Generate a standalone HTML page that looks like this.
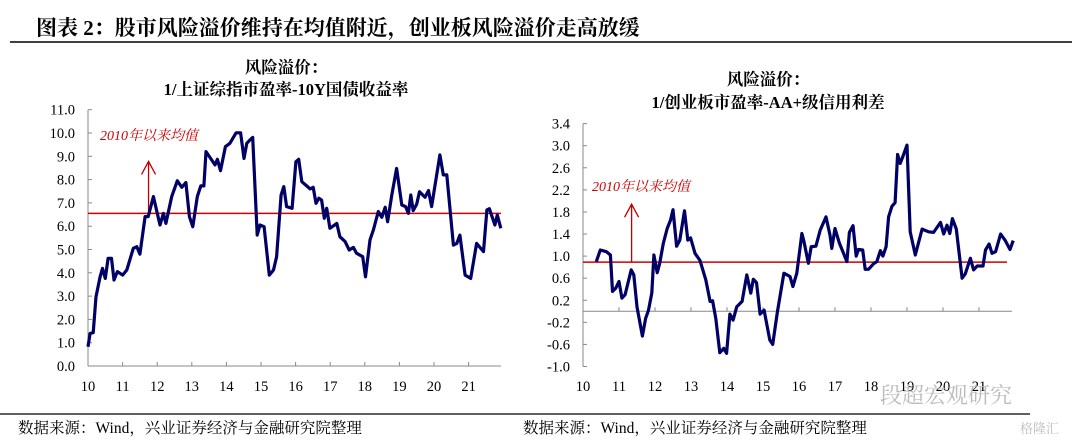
<!DOCTYPE html>
<html><head><meta charset="utf-8">
<style>
body{margin:0;background:#fff;}
svg text{font-family:"Liberation Serif","Noto Serif CJK SC",serif;}
</style></head>
<body>
<svg id="c" width="1072" height="442" viewBox="0 0 1072 442" xmlns="http://www.w3.org/2000/svg">
<text x="36" y="35" font-size="21" font-weight="bold" fill="#000">图表 2：股市风险溢价维持在均值附近，创业板风险溢价走高放缓</text>
<line x1="10" y1="42" x2="1072" y2="42" stroke="#000" stroke-width="1.5"/>
<text x="286" y="73" font-size="16.5" font-weight="bold" text-anchor="middle">风险溢价：</text>
<text x="286" y="95" font-size="16.5" font-weight="bold" text-anchor="middle">1/上证综指市盈率-10Y国债收益率</text>
<text x="768" y="85" font-size="16.5" font-weight="bold" text-anchor="middle">风险溢价：</text>
<text x="768" y="108" font-size="16.5" font-weight="bold" text-anchor="middle">1/创业板市盈率-AA+级信用利差</text>
<g id="left"></g>
<g id="right"></g>
<text x="880" y="403" font-size="22" fill="#bbb" font-family="Liberation Sans,Noto Sans CJK SC,sans-serif">段超宏观研究</text>
<line x1="0" y1="414" x2="1030" y2="414" stroke="#000" stroke-width="1.2"/>
<text x="18" y="433" font-size="15.5">数据来源：Wind，兴业证券经济与金融研究院整理</text>
<text x="523" y="433" font-size="15.5">数据来源：Wind，兴业证券经济与金融研究院整理</text>
<text x="1020" y="433" font-size="13" fill="#bbb">格隆汇</text>
</svg>
<script>
const leftYears=[10.00,10.06,10.15,10.23,10.35,10.42,10.50,10.58,10.68,10.75,10.85,11.00,11.12,11.31,11.41,11.50,11.65,11.74,11.89,12.08,12.18,12.25,12.42,12.58,12.71,12.83,12.93,13.03,13.16,13.26,13.35,13.41,13.67,13.74,13.83,13.97,14.10,14.28,14.41,14.51,14.59,14.68,14.76,14.89,14.97,15.09,15.24,15.36,15.45,15.58,15.66,15.74,15.90,16.01,16.09,16.18,16.32,16.42,16.51,16.59,16.67,16.75,16.83,16.90,16.99,17.19,17.28,17.43,17.55,17.67,17.76,17.94,18.02,18.15,18.25,18.39,18.49,18.59,18.66,18.78,18.92,19.07,19.18,19.26,19.33,19.40,19.50,19.58,19.74,19.84,19.93,20.17,20.27,20.37,20.56,20.66,20.75,20.90,21.06,21.23,21.43,21.53,21.60,21.76,21.83,21.93];
const leftValues=[0.83,1.4,1.43,2.97,3.83,4.19,3.76,4.62,4.62,3.69,4.05,3.9,4.12,5.05,5.12,4.8,6.41,6.41,7.27,6.05,6.55,6.12,7.27,7.95,7.67,7.87,6.41,5.98,7.27,7.73,7.73,9.2,8.63,8.87,8.38,9.41,9.56,10.01,10.01,8.91,9.56,9.70,9.81,5.62,6.05,5.98,3.9,4.12,4.69,7.34,7.7,6.84,6.77,8.77,8.87,7.91,7.73,7.6,7.67,6.98,7.2,7.12,6.34,6.77,5.91,6.12,5.55,5.34,4.98,5.09,4.84,4.69,3.83,5.41,5.84,6.63,6.38,6.81,6.19,7.34,8.48,6.91,6.84,6.55,7.34,6.67,6.95,7.48,7.24,7.53,6.84,9.06,8.2,8.2,5.19,5.26,5.62,3.9,3.76,5.26,4.91,6.7,6.75,6.05,6.48,5.91];
const leftMean=6.55;
const leftTicks=["0.0","1.0","2.0","3.0","4.0","5.0","6.0","7.0","8.0","9.0","10.0","11.0"];
const xYearLabels=["10","11","12","13","14","15","16","17","18","19","20","21"];
const rightYears=[10.37,10.48,10.65,10.76,10.82,10.91,11.00,11.08,11.17,11.34,11.41,11.50,11.65,11.74,11.82,11.91,11.97,12.06,12.13,12.23,12.34,12.43,12.50,12.60,12.69,12.82,12.91,12.99,13.11,13.25,13.41,13.53,13.60,13.69,13.80,13.91,13.99,14.08,14.17,14.27,14.42,14.55,14.66,14.73,14.82,14.92,15.03,15.19,15.27,15.40,15.58,15.75,15.83,15.94,16.08,16.14,16.26,16.34,16.47,16.59,16.75,16.86,16.91,17.00,17.12,17.33,17.40,17.50,17.59,17.65,17.77,17.84,17.93,18.07,18.16,18.26,18.33,18.42,18.49,18.58,18.67,18.74,18.81,18.89,19.00,19.09,19.23,19.42,19.60,19.74,19.93,20.02,20.11,20.19,20.26,20.37,20.53,20.62,20.76,20.85,20.95,21.11,21.18,21.28,21.36,21.46,21.60,21.73,21.86,21.95];
const rightValues=[0.90,1.11,1.08,1.02,0.36,0.42,0.54,0.24,0.30,0.75,0.66,0.08,-0.45,-0.13,0.02,0.33,1.02,0.70,0.87,1.23,1.50,1.65,1.84,1.18,1.29,1.82,1.29,1.33,1.05,0.92,0.57,0.18,0.19,-0.13,-0.75,-0.67,-0.76,-0.05,-0.16,0.08,0.18,0.66,0.33,0.58,0.52,-0.05,0.02,-0.52,-0.60,-0.01,0.69,0.63,0.45,0.69,1.41,1.26,0.87,1.17,1.18,1.47,1.71,1.38,1.14,1.50,1.24,0.90,1.43,1.55,1.00,1.12,1.11,0.76,0.76,0.86,0.90,1.10,1.00,1.17,1.71,1.90,1.97,2.84,2.68,2.81,3.01,1.44,1.02,1.49,1.44,1.43,1.61,1.40,1.56,1.41,1.68,1.49,0.60,0.68,0.96,0.75,0.82,0.82,1.11,1.22,1.05,1.08,1.40,1.28,1.12,1.28];
const rightMean=0.89;
const rightTicks=["-1.0","-0.6","-0.2","0.2","0.6","1.0","1.4","1.8","2.2","2.6","3.0","3.4"];

const NS="http://www.w3.org/2000/svg";
function mk(parent,tag,attrs,txt){const e=document.createElementNS(NS,tag);for(const k in attrs)e.setAttribute(k,attrs[k]);if(txt!==undefined)e.textContent=txt;parent.appendChild(e);return e;}

function drawChart(g,cfg){
  const xS=y=>cfg.x0+(y-10)*cfg.xStep;
  const yS=v=>cfg.yZero-v*cfg.yUnit;
  let a=mk(g,'line',{x1:cfg.x0,y1:yS(cfg.yMin),x2:cfg.x0,y2:yS(cfg.yMax),stroke:'#888','stroke-width':1});
  
  
  cfg.ticks.forEach(t=>{const v=parseFloat(t);
    const tl=mk(g,'line',{x1:cfg.x0,y1:yS(v),x2:cfg.x0+4,y2:yS(v),stroke:'#888'});
    
    
    const tx=mk(g,'text',{x:cfg.x0-13,y:yS(v)+5,'font-size':14.5,'text-anchor':'end'},t);
    
    
  });
  const xa=mk(g,'line',{x1:cfg.x0,y1:yS(cfg.xAxisV),x2:cfg.xEnd,y2:yS(cfg.xAxisV),stroke:'#888','stroke-width':1});
  
  
  xYearLabels.forEach((l,i)=>{const x=xS(10+i);
    const tl=mk(g,'line',{x1:x,y1:yS(cfg.xAxisV),x2:x,y2:yS(cfg.xAxisV)-4,stroke:'#888'});
    
    
    const tx=mk(g,'text',{x:x,y:cfg.labelY,'font-size':14.5,'text-anchor':'middle'},l);
    
    
  });
  const ml=mk(g,'line',{x1:cfg.x0,y1:yS(cfg.mean),x2:cfg.meanEnd,y2:yS(cfg.mean),stroke:'#d00000','stroke-width':1.5});
  
  
  const ax=xS(cfg.arrowYear), ay=yS(cfg.mean);
  const ar=mk(g,'path',{d:`M${ax},${ay} V${ay-cfg.arrowLen} M${ax-7},${ay-cfg.arrowLen+13} L${ax},${ay-cfg.arrowLen} L${ax+7},${ay-cfg.arrowLen+13}`,stroke:'#c00000','stroke-width':1.3,fill:'none'});
  
  
  const lb=mk(g,'text',{x:cfg.labelX,y:cfg.labelYY,'font-size':14,fill:'#d00000','font-style':'italic','font-family':'Liberation Sans,Noto Sans CJK SC,sans-serif'},'2010年以来均值');
  
  
  const d=cfg.years.map((y,i)=>(i?'L':'M')+xS(y).toFixed(1)+','+yS(cfg.values[i]).toFixed(1)).join(' ');
  const p=mk(g,'path',{d:d,stroke:'#000066','stroke-width':3.2,fill:'none','stroke-linejoin':'round'});
  
  
}
drawChart(document.getElementById('left'),{x0:88,xStep:34.6,yZero:366,yUnit:23.3,yMin:0,yMax:11,xAxisV:0,xEnd:501,labelY:391,
  ticks:leftTicks,mean:leftMean,meanEnd:501,arrowYear:11.75,arrowLen:52,labelX:100,labelYY:140,years:leftYears,values:leftValues});
drawChart(document.getElementById('right'),{x0:583,xStep:36,yZero:311.3,yUnit:55.2,yMin:-1.0,yMax:3.4,xAxisV:0,xEnd:1012,labelY:391,
  ticks:rightTicks,mean:rightMean,meanEnd:1007,arrowYear:11.35,arrowLen:58,labelX:592,labelYY:191,years:rightYears,values:rightValues});
</script>
</body></html>
